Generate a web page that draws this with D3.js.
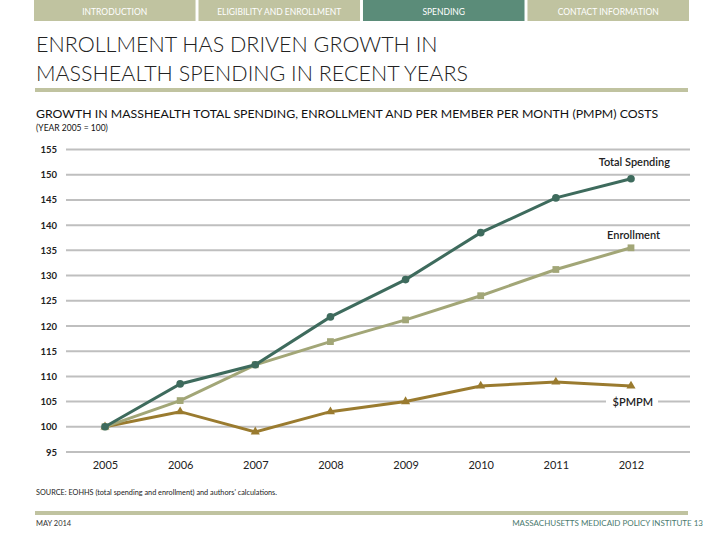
<!DOCTYPE html>
<html><head><meta charset="utf-8">
<script src="https://cdn.jsdelivr.net/npm/d3@7"></script>
<style>
body{margin:0;background:#fff;}
svg{display:block;font-family:Lato,"Open Sans",sans-serif;}
</style></head>
<body><svg id="c" width="720" height="540"></svg>
<script>
const years = ["2005","2006","2007","2008","2009","2010","2011","2012"];
const totalSpending = [100,108.5,112.3,121.8,129.2,138.5,145.4,149.2];
const enrollment = [100,105.2,112.3,116.9,121.2,126.0,131.2,135.5];
const pmpm = [100,103.0,99.0,103.0,105.0,108.1,108.9,108.1];
const yTicks = [95,100,105,110,115,120,125,130,135,140,145,150,155];
const navItems = ["INTRODUCTION","ELIGIBILITY AND ENROLLMENT","SPENDING","CONTACT INFORMATION"];

const svg = d3.select("#c");
const olive = "#c0c3a0", teal = "#5b8c79";

// nav
const nav = d3.scaleBand().domain(navItems).range([34,689]).paddingInner(0.018);
svg.selectAll("rect.nav").data(navItems).join("rect")
  .attr("x",d=>nav(d)).attr("y",0).attr("width",nav.bandwidth()).attr("height",21)
  .attr("fill",d=>d==="SPENDING"?teal:olive);
svg.selectAll("text.nav").data(navItems).join("text")
  .attr("x",d=>nav(d)+nav.bandwidth()/2).attr("y",15).attr("text-anchor","middle")
  .attr("fill","#fff").attr("font-size",8.5).text(d=>d);

// title
svg.append("text").attr("x",36).attr("y",52).attr("font-size",21.5).attr("fill","#222").attr("font-weight",300)
  .text("ENROLLMENT HAS DRIVEN GROWTH IN");
svg.append("text").attr("x",36).attr("y",81).attr("font-size",21.5).attr("fill","#222").attr("font-weight",300)
  .text("MASSHEALTH SPENDING IN RECENT YEARS");
svg.append("rect").attr("x",35).attr("y",88).attr("width",653).attr("height",4).attr("fill",olive);

svg.append("text").attr("x",36).attr("y",118).attr("font-size",12.3).attr("fill","#111")
  .text("GROWTH IN MASSHEALTH TOTAL SPENDING, ENROLLMENT AND PER MEMBER PER MONTH (PMPM) COSTS");
svg.append("text").attr("x",36).attr("y",131).attr("font-size",8.5).attr("fill","#111")
  .text("(YEAR 2005 = 100)");

// chart
const x = d3.scalePoint().domain(years).range([105,631]);
const y = d3.scaleLinear().domain([95,155]).range([452,149.5]);

svg.append("g").selectAll("line").data(yTicks).join("line")
  .attr("x1",66).attr("x2",690).attr("y1",d=>y(d)).attr("y2",d=>y(d))
  .attr("stroke","#bfbfbf").attr("stroke-width",2);

const yAxis = d3.axisLeft(y).tickValues(yTicks).tickSize(0).tickPadding(0);
const gy = svg.append("g").attr("transform","translate(57,0)").call(yAxis);
gy.select(".domain").remove();
gy.selectAll("text").attr("font-size",9.5).attr("font-weight",700).attr("fill","#222").attr("font-family","Lato,sans-serif");

const xAxis = d3.axisBottom(x).tickSize(0).tickPadding(0);
const gx = svg.append("g").attr("transform","translate(0,461)").call(xAxis);
gx.select(".domain").remove();
gx.selectAll("text").attr("font-size",11).attr("fill","#222").attr("font-family","Lato,sans-serif");

const series = [
  {name:"Total Spending", values: totalSpending, color:"#3e6b5d", shape:d3.symbolCircle},
  {name:"Enrollment", values: enrollment, color:"#a2a677", shape:d3.symbolSquare},
  {name:"$PMPM", values: pmpm, color:"#9a7b2f", shape:d3.symbolTriangle}
];
const line = d3.line().x((d,i)=>x(years[i])).y(d=>y(d));

// $PMPM label background gap
svg.append("rect").attr("x",606).attr("y",394).attr("width",52).attr("height",14).attr("fill","#fff");

[series[2],series[1],series[0]].forEach(s=>{
  svg.append("path").attr("d",line(s.values)).attr("fill","none").attr("stroke",s.color).attr("stroke-width",3);
  svg.append("g").selectAll("path").data(s.values).join("path")
    .attr("transform",(d,i)=>`translate(${x(years[i])},${y(d)})`)
    .attr("d",d3.symbol().type(s.shape).size(s.shape===d3.symbolTriangle?36:46))
    .attr("fill",s.color);
});

svg.append("text").attr("x",670).attr("y",166).attr("text-anchor","end").attr("font-size",11).attr("font-weight",600).attr("fill","#222").text("Total  Spending");
svg.append("text").attr("x",660).attr("y",239).attr("text-anchor","end").attr("font-size",11).attr("font-weight",600).attr("fill","#222").text("Enrollment");
svg.append("text").attr("x",653).attr("y",406).attr("text-anchor","end").attr("font-size",11).attr("font-weight",600).attr("fill","#222").text("$PMPM");

// footer
svg.append("text").attr("x",36).attr("y",495).attr("font-size",7.3).attr("fill","#222")
  .text("SOURCE:  EOHHS (total spending and enrollment) and authors' calculations.");
svg.append("rect").attr("x",35).attr("y",511).attr("width",653).attr("height",4).attr("fill",olive);
svg.append("text").attr("x",36).attr("y",526).attr("font-size",7.5).attr("fill","#333").text("MAY 2014");
svg.append("text").attr("x",703).attr("y",526).attr("text-anchor","end").attr("font-size",8).attr("fill","#4b7a6e")
  .text("MASSACHUSETTS MEDICAID POLICY INSTITUTE  13");
</script></body></html>
